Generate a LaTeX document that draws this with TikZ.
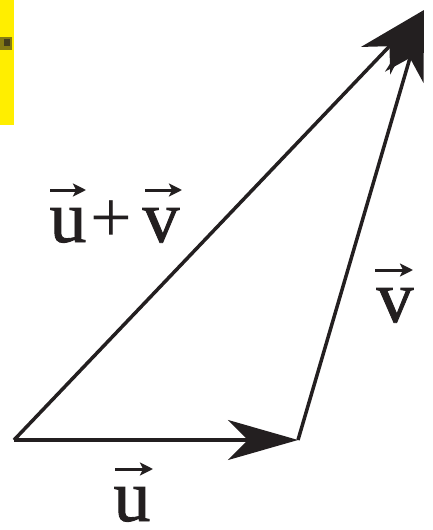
\documentclass[tikz,border=0pt]{standalone}
\usepackage{fontspec}
\setmainfont{Liberation Serif}
\newfontfamily\heavyserif{Liberation Serif}[FakeBold=1.2]
\usetikzlibrary{arrows.meta,calc}
\definecolor{ink}{RGB}{35,31,32}
\definecolor{hl}{RGB}{255,238,0}
\tikzset{
  vec/.style={draw=ink, line width=3.5pt, -{Stealth[length=70pt, width=40pt, inset=20pt]}},
  lbl/.style={anchor=base, inner sep=0pt, text=ink, font=\heavyserif\fontsize{74}{80}\selectfont},
  plbl/.style={anchor=base, inner sep=0pt, text=ink, font=\fontsize{74}{80}\selectfont},
  tinyvec/.style={draw=ink, line width=3pt, -{Stealth[length=13pt, width=13pt, inset=3pt]}}
}
\begin{document}
\begin{tikzpicture}[x=1pt,y=-1pt]
\useasboundingbox (0,0) rectangle (432,530);
% yellow strip at left
\fill[hl] (0,0) rectangle (14,125);
\fill[ink!55!hl] (0,37) rectangle (12,50);
\fill[ink!85!hl] (4,39) rectangle (10,46);
% vector points
\coordinate (O) at (14,440);
\coordinate (U) at (298,440);
\coordinate (T) at (424,10);
\draw[vec] (O) -- (T);
\draw[vec] (O) -- (U);
\draw[vec] (U) -- (T);
% labels
\node[lbl] (lu) at (132,521) {u};
\draw[tinyvec] ($(lu.base)+(-17,-52)$) -- ($(lu.base)+(21,-52)$);
\node[lbl] (lv) at (395,322) {v};
\draw[tinyvec] ($(lv.base)+(-20,-52)$) -- ($(lv.base)+(18,-52)$);
\node[lbl] (su) at (68,242) {u};
\node[plbl] (plus) at (111,242) {+};
\node[lbl] (sv) at (161,242) {v};
\draw[tinyvec] ($(su.base)+(-18,-52)$) -- ($(su.base)+(18,-52)$);
\draw[tinyvec] ($(sv.base)+(-16,-52)$) -- ($(sv.base)+(21,-52)$);
\end{tikzpicture}
\end{document}
